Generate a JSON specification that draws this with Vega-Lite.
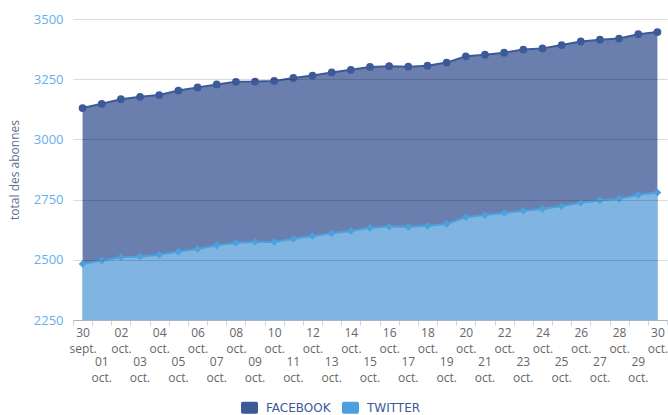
{
  "$schema": "https://vega.github.io/schema/vega-lite/v6.json",
  "width": 594,
  "height": 301,
  "autosize": {"type": "none"},
  "padding": {"left": 73, "top": 19, "right": 1, "bottom": 95},
  "background": "white",
  "config": {"view": {"stroke": null}, "font": "Open Sans"},
  "data": {"values": [
    {"d": "30 sept.", "s": "FACEBOOK", "v": 3130}, {"d": "01 oct.", "s": "FACEBOOK", "v": 3148}, {"d": "02 oct.", "s": "FACEBOOK", "v": 3167},
    {"d": "03 oct.", "s": "FACEBOOK", "v": 3177}, {"d": "04 oct.", "s": "FACEBOOK", "v": 3184}, {"d": "05 oct.", "s": "FACEBOOK", "v": 3203},
    {"d": "06 oct.", "s": "FACEBOOK", "v": 3216}, {"d": "07 oct.", "s": "FACEBOOK", "v": 3228}, {"d": "08 oct.", "s": "FACEBOOK", "v": 3239},
    {"d": "09 oct.", "s": "FACEBOOK", "v": 3240}, {"d": "10 oct.", "s": "FACEBOOK", "v": 3243}, {"d": "11 oct.", "s": "FACEBOOK", "v": 3255},
    {"d": "12 oct.", "s": "FACEBOOK", "v": 3265}, {"d": "13 oct.", "s": "FACEBOOK", "v": 3278}, {"d": "14 oct.", "s": "FACEBOOK", "v": 3289},
    {"d": "15 oct.", "s": "FACEBOOK", "v": 3301}, {"d": "16 oct.", "s": "FACEBOOK", "v": 3304}, {"d": "17 oct.", "s": "FACEBOOK", "v": 3302},
    {"d": "18 oct.", "s": "FACEBOOK", "v": 3306}, {"d": "19 oct.", "s": "FACEBOOK", "v": 3319}, {"d": "20 oct.", "s": "FACEBOOK", "v": 3345},
    {"d": "21 oct.", "s": "FACEBOOK", "v": 3352}, {"d": "22 oct.", "s": "FACEBOOK", "v": 3360}, {"d": "23 oct.", "s": "FACEBOOK", "v": 3373},
    {"d": "24 oct.", "s": "FACEBOOK", "v": 3378}, {"d": "25 oct.", "s": "FACEBOOK", "v": 3392}, {"d": "26 oct.", "s": "FACEBOOK", "v": 3407},
    {"d": "27 oct.", "s": "FACEBOOK", "v": 3414}, {"d": "28 oct.", "s": "FACEBOOK", "v": 3419}, {"d": "29 oct.", "s": "FACEBOOK", "v": 3437},
    {"d": "30 oct.", "s": "FACEBOOK", "v": 3446},
    {"d": "30 sept.", "s": "TWITTER", "v": 2483}, {"d": "01 oct.", "s": "TWITTER", "v": 2497}, {"d": "02 oct.", "s": "TWITTER", "v": 2511},
    {"d": "03 oct.", "s": "TWITTER", "v": 2514}, {"d": "04 oct.", "s": "TWITTER", "v": 2521}, {"d": "05 oct.", "s": "TWITTER", "v": 2534},
    {"d": "06 oct.", "s": "TWITTER", "v": 2545}, {"d": "07 oct.", "s": "TWITTER", "v": 2560}, {"d": "08 oct.", "s": "TWITTER", "v": 2571},
    {"d": "09 oct.", "s": "TWITTER", "v": 2574}, {"d": "10 oct.", "s": "TWITTER", "v": 2574}, {"d": "11 oct.", "s": "TWITTER", "v": 2587},
    {"d": "12 oct.", "s": "TWITTER", "v": 2599}, {"d": "13 oct.", "s": "TWITTER", "v": 2610}, {"d": "14 oct.", "s": "TWITTER", "v": 2620},
    {"d": "15 oct.", "s": "TWITTER", "v": 2633}, {"d": "16 oct.", "s": "TWITTER", "v": 2638}, {"d": "17 oct.", "s": "TWITTER", "v": 2637},
    {"d": "18 oct.", "s": "TWITTER", "v": 2641}, {"d": "19 oct.", "s": "TWITTER", "v": 2649}, {"d": "20 oct.", "s": "TWITTER", "v": 2677},
    {"d": "21 oct.", "s": "TWITTER", "v": 2686}, {"d": "22 oct.", "s": "TWITTER", "v": 2694}, {"d": "23 oct.", "s": "TWITTER", "v": 2704},
    {"d": "24 oct.", "s": "TWITTER", "v": 2711}, {"d": "25 oct.", "s": "TWITTER", "v": 2723}, {"d": "26 oct.", "s": "TWITTER", "v": 2737},
    {"d": "27 oct.", "s": "TWITTER", "v": 2747}, {"d": "28 oct.", "s": "TWITTER", "v": 2754}, {"d": "29 oct.", "s": "TWITTER", "v": 2770},
    {"d": "30 oct.", "s": "TWITTER", "v": 2779}
  ]},
  "encoding": {
    "y": {
      "field": "v", "type": "quantitative", "stack": null,
      "scale": {"domain": [2250, 3500], "zero": false, "nice": false},
      "axis": {
        "values": [2250, 2500, 2750, 3000, 3250, 3500], "format": "d", "grid": true, "gridColor": "#000000", "gridOpacity": 0.14,
        "domain": false, "ticks": false, "labelColor": "#6aaeee", "labelFontSize": 13, "labelPadding": 10,
        "title": "total des abonnes", "titleColor": "#5b7290", "titleFontWeight": "normal", "titleFontSize": 12,
        "titlePadding": 12, "zindex": 1
      }
    }
  },
  "layer": [
    {
      "encoding": {
        "x": {
          "field": "d", "type": "ordinal", "sort": null, "bandPosition": 0.5,
          "scale": {"type": "band", "paddingInner": 0, "paddingOuter": 0},
          "axis": {
            "orient": "bottom", "title": null, "grid": false, "labelAngle": 0, "tickBand": "extent",
            "domainColor": "#c5d3e2", "tickColor": "#c5d3e2", "tickSize": 5,
            "labelColor": "#666666", "labelFontSize": 12, "labelLineHeight": 16.5, "labelPadding": 2,
            "labelExpr": "toNumber(split(datum.label,' ')[0]) % 2 == 0 ? split(datum.label,' ') : ''"
          }
        }
      },
      "layer": [
        {
          "mark": {"type": "area", "opacity": 1},
          "encoding": {
            "detail": {"field": "s", "type": "nominal"},
            "fill": {"condition": {"test": "datum.s == 'FACEBOOK'", "value": "#6a7fad"}, "value": "#7fb5e0"}
          }
        },
        {
          "mark": {"type": "line", "strokeWidth": 2},
          "encoding": {
            "color": {"field": "s", "type": "nominal", "scale": {"domain": ["FACEBOOK", "TWITTER"], "range": ["#3d5a98", "#4ca0dd"]},
              "legend": {"title": null, "orient": "none", "legendX": 168, "legendY": 380, "direction": "horizontal",
                "symbolType": "M-0.8,-0.7 L0.8,-0.7 Q1,-0.7 1,-0.5 L1,0.5 Q1,0.7 0.8,0.7 L-0.8,0.7 Q-1,0.7 -1,0.5 L-1,-0.5 Q-1,-0.7 -0.8,-0.7 Z",
                "symbolSize": 289, "symbolStrokeWidth": 0, "symbolOpacity": 1, "labelColor": "#3d5a98", "labelFontSize": 12,
                "labelFont": "DejaVu Sans", "columnPadding": 11, "labelOffset": 8}}
          }
        },
        {
          "transform": [{"filter": "datum.s == 'FACEBOOK'"}],
          "mark": {"type": "point", "filled": true, "opacity": 1, "shape": "circle", "size": 60},
          "encoding": {"color": {"field": "s", "type": "nominal"}}
        },
        {
          "transform": [{"filter": "datum.s == 'TWITTER'"}],
          "mark": {"type": "point", "filled": true, "opacity": 1, "shape": "diamond", "size": 60},
          "encoding": {"color": {"field": "s", "type": "nominal"}}
        }
      ]
    },
    {
      "mark": {"type": "point", "opacity": 0},
      "encoding": {
        "x": {
          "field": "d", "type": "ordinal", "sort": null, "bandPosition": 0.5,
          "scale": {"type": "band", "paddingInner": 0, "paddingOuter": 0},
          "axis": {
            "orient": "bottom", "title": null, "grid": false, "labelAngle": 0, "domain": false, "ticks": false,
            "labelColor": "#666666", "labelFontSize": 12, "labelLineHeight": 16.5, "labelPadding": 36,
            "labelExpr": "toNumber(split(datum.label,' ')[0]) % 2 == 1 ? split(datum.label,' ') : ''"
          }
        }
      }
    }
  ],
  "resolve": {"axis": {"x": "independent"}}
}
